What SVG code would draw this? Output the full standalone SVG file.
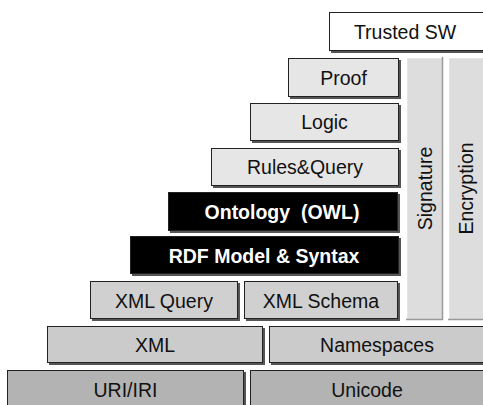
<svg xmlns="http://www.w3.org/2000/svg" width="483" height="405" viewBox="0 0 483 405">
<style>
.sh{fill:#555}
.b{stroke:#222;stroke-width:1}
.t{font-family:"Liberation Sans",Arial,sans-serif;font-size:19.5px;fill:#111;text-anchor:middle;white-space:pre}
.tb{font-family:"Liberation Sans",Arial,sans-serif;font-size:19.5px;font-weight:bold;fill:#fff;text-anchor:middle;white-space:pre}
.w{fill:#ffffff}
.l1{fill:#e6e6e6}
.l2{fill:#d0d0d0}
.l3{fill:#cbcbcb}
.l4{fill:#b3b3b3}
.k{fill:#000}
.col{fill:#dddddd}
.hi{stroke:#ffffff;stroke-width:1.5;fill:none}
.lo{stroke:#999999;stroke-width:1.5;fill:none}
</style>
<rect width="483" height="405" fill="#fff"/>
<g id="signature">
<rect class="col" x="406" y="57" width="37" height="263"/>
<path class="hi" d="M406.5,320 V57.5 H443"/>
<path class="lo" d="M442.5,57 V319.5 H406"/>
<text class="t" transform="translate(431.5,188.5) rotate(-90)">Signature</text>
</g>
<g id="encryption">
<rect class="col" x="448" y="57" width="40" height="263"/>
<path class="hi" d="M448.5,320 V57.5 H488"/>
<path class="lo" d="M448,319.5 H488"/>
<text class="t" transform="translate(472.5,188.5) rotate(-90)">Encryption</text>
</g>
<g id="trusted-sw">
<rect class="sh" x="331" y="14" width="160" height="39"/>
<rect class="w b" x="329.5" y="12.5" width="160" height="38"/>
<text class="t" x="405" y="39">Trusted SW</text>
</g>
<g id="proof">
<rect class="sh" x="290" y="60" width="111" height="39"/>
<rect class="l1 b" x="288.5" y="58.5" width="110" height="38"/>
<text class="t" x="343.5" y="85">Proof</text>
</g>
<g id="logic">
<rect class="sh" x="252" y="105" width="149" height="38"/>
<rect class="l1 b" x="250.5" y="103.5" width="148" height="37"/>
<text class="t" x="324.5" y="129">Logic</text>
</g>
<g id="rules-query">
<rect class="sh" x="213" y="150" width="188" height="38"/>
<rect class="l1 b" x="211.5" y="148.5" width="187" height="37"/>
<text class="t" x="305" y="174">Rules&amp;Query</text>
</g>
<g id="ontology">
<rect class="sh" x="170" y="194" width="230" height="39"/>
<rect class="k b" x="168.5" y="192.5" width="229" height="38"/>
<text class="tb" x="282" y="219">Ontology  (OWL)</text>
</g>
<g id="rdf">
<rect class="sh" x="132" y="238" width="269" height="38"/>
<rect class="k b" x="130.5" y="236.5" width="268" height="37"/>
<text class="tb" x="264" y="262.5">RDF Model &amp; Syntax</text>
</g>
<g id="xml-query">
<rect class="sh" x="92" y="283" width="148" height="38"/>
<rect class="l2 b" x="90.5" y="281.5" width="147" height="37"/>
<text class="t" x="164" y="307.5">XML Query</text>
</g>
<g id="xml-schema">
<rect class="sh" x="246" y="283" width="154" height="38"/>
<rect class="l2 b" x="244.5" y="281.5" width="153" height="37"/>
<text class="t" x="321" y="307.5">XML Schema</text>
</g>
<g id="xml">
<rect class="sh" x="49" y="328" width="216" height="37"/>
<rect class="l3 b" x="47.5" y="326.5" width="215" height="36"/>
<text class="t" x="155" y="352">XML</text>
</g>
<g id="namespaces">
<rect class="sh" x="271" y="328" width="220" height="37"/>
<rect class="l3 b" x="269.5" y="326.5" width="220" height="36"/>
<text class="t" x="377" y="352">Namespaces</text>
</g>
<g id="uri-iri">
<rect class="sh" x="9" y="372" width="237" height="40"/>
<rect class="l4 b" x="7.5" y="370.5" width="236" height="40"/>
<text class="t" x="125.5" y="397">URI/IRI</text>
</g>
<g id="unicode">
<rect class="sh" x="252" y="372" width="240" height="40"/>
<rect class="l4 b" x="250.5" y="370.5" width="240" height="40"/>
<text class="t" x="367" y="397">Unicode</text>
</g>
<g id="connectors"></g>
</svg>
